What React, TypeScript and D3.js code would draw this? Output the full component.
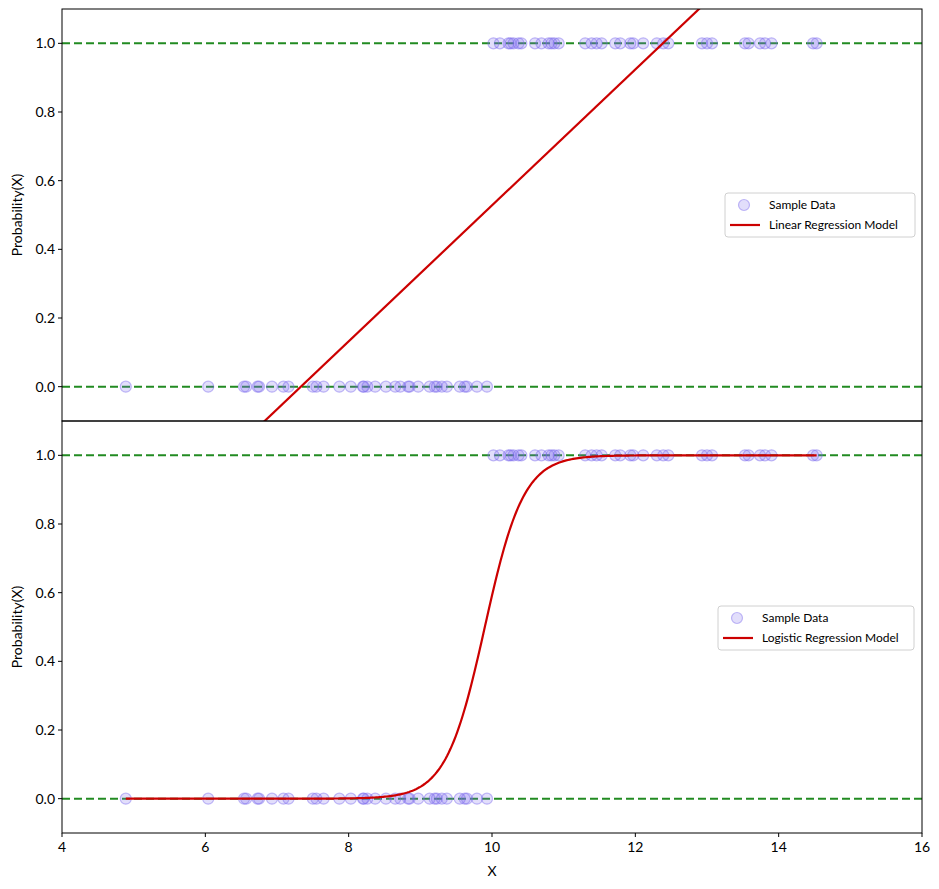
import React from "react";
import * as d3 from "d3";

const zeroX = [4.89, 6.04, 6.54, 6.57, 6.73, 6.75, 6.93, 7.09, 7.16, 7.5, 7.55, 7.65, 7.87, 8.03, 8.2, 8.21, 8.26, 8.37, 8.52, 8.65, 8.72, 8.83, 8.85, 8.97, 9.13, 9.2, 9.23, 9.3, 9.37, 9.55, 9.62, 9.65, 9.79, 9.93];
const oneX = [10.02, 10.11, 10.23, 10.26, 10.3, 10.37, 10.41, 10.6, 10.69, 10.79, 10.83, 10.87, 10.93, 11.3, 11.39, 11.46, 11.53, 11.72, 11.79, 11.93, 11.97, 12.11, 12.3, 12.39, 12.46, 12.93, 13.0, 13.07, 13.53, 13.58, 13.74, 13.81, 13.9, 14.48, 14.53];
const linearSlope = 0.198;
const linearIntercept = -1.452;
const logisticMid = 9.9;
const logisticK = 3.7;
const xTicks = [4, 6, 8, 10, 12, 14, 16];
const yTicks = [0, 0.2, 0.4, 0.6, 0.8, 1.0];

const W = 939, H = 889;
const L = 62, R = 922;
const panels = [
  { top: 9, bottom: 421, kind: "linear", label: "Linear Regression Model", legend: { x: 725, y: 193, w: 190 } },
  { top: 421, bottom: 833, kind: "logistic", label: "Logistic Regression Model", legend: { x: 718, y: 606, w: 196 } },
];
const FONT = "Lato, 'Open Sans', sans-serif";
const PURPLE = "#7b68ee";
const RED = "#cc0000";
const GREEN = "#228b22";

export default function App() {
  const x = d3.scaleLinear().domain([4, 16]).range([L, R]);
  const allX = [...zeroX, ...oneX];
  const xMin = d3.min(allX)!, xMax = d3.max(allX)!;
  return (
    <svg width={W} height={H} style={{ position: "absolute", left: 0, top: 0, background: "#fff" }}>
      <defs>
        {panels.map((p, i) => (
          <clipPath id={`clip${i}`} key={i}>
            <rect x={L} y={p.top} width={R - L} height={p.bottom - p.top} />
          </clipPath>
        ))}
      </defs>
      {panels.map((p, i) => {
        const y = d3.scaleLinear().domain([-0.1, 1.1]).range([p.bottom, p.top]);
        let pts: [number, number][];
        if (p.kind === "linear") {
          pts = [4, 16].map((v) => [x(v), y(linearSlope * v + linearIntercept)]);
        } else {
          pts = d3.range(0, 401).map((j) => {
            const v = xMin + ((xMax - xMin) * j) / 400;
            return [x(v), y(1 / (1 + Math.exp(-logisticK * (v - logisticMid))))];
          });
        }
        const line = d3.line()(pts)!;
        const lg = p.legend;
        return (
          <g key={i}>
            <g clipPath={`url(#clip${i})`}>
              {[0, 1].map((v) => (
                <line key={v} x1={L} x2={R} y1={y(v)} y2={y(v)} stroke={GREEN} strokeWidth={2} strokeDasharray="8,4" />
              ))}
              {zeroX.map((v, k) => (
                <circle key={"z" + k} cx={x(v)} cy={y(0)} r={5.5} fill={PURPLE} fillOpacity={0.22} stroke={PURPLE} strokeOpacity={0.45} strokeWidth={1.2} />
              ))}
              {oneX.map((v, k) => (
                <circle key={"o" + k} cx={x(v)} cy={y(1)} r={5.5} fill={PURPLE} fillOpacity={0.22} stroke={PURPLE} strokeOpacity={0.45} strokeWidth={1.2} />
              ))}
              <path d={line} fill="none" stroke={RED} strokeWidth={2.2} />
            </g>
            <rect x={L} y={p.top} width={R - L} height={p.bottom - p.top} fill="none" stroke="#000" strokeWidth={1} />
            {yTicks.map((t) => (
              <g key={t}>
                <line x1={L - 4} x2={L} y1={y(t)} y2={y(t)} stroke="#000" />
                <text x={L - 7} y={y(t)} dy="0.35em" textAnchor="end" fontSize={14} fontFamily={FONT}>{t.toFixed(1)}</text>
              </g>
            ))}
            <text transform={`translate(22,${(p.top + p.bottom) / 2}) rotate(-90)`} textAnchor="middle" fontSize={14} fontFamily={FONT}>Probability(X)</text>
            <g>
              <rect x={lg.x} y={lg.y} width={lg.w} height={44} rx={3} fill="#fff" fillOpacity={0.8} stroke="#d0d0d0" />
              <circle cx={lg.x + 19} cy={lg.y + 12} r={5.5} fill={PURPLE} fillOpacity={0.22} stroke={PURPLE} strokeOpacity={0.45} strokeWidth={1.2} />
              <text x={lg.x + 44} y={lg.y + 12} dy="0.35em" fontSize={12} fontFamily={FONT}>Sample Data</text>
              <line x1={lg.x + 5} x2={lg.x + 35} y1={lg.y + 32} y2={lg.y + 32} stroke={RED} strokeWidth={2.2} />
              <text x={lg.x + 44} y={lg.y + 32} dy="0.35em" fontSize={12} fontFamily={FONT}>{p.label}</text>
            </g>
            {i === 1 && xTicks.map((t) => (
              <g key={t}>
                <line x1={x(t)} x2={x(t)} y1={p.bottom} y2={p.bottom + 4} stroke="#000" />
                <text x={x(t)} y={p.bottom + 19} textAnchor="middle" fontSize={14} fontFamily={FONT}>{t}</text>
              </g>
            ))}
          </g>
        );
      })}
      <text x={(L + R) / 2} y={876} textAnchor="middle" fontSize={14} fontFamily={FONT}>X</text>
    </svg>
  );
}
